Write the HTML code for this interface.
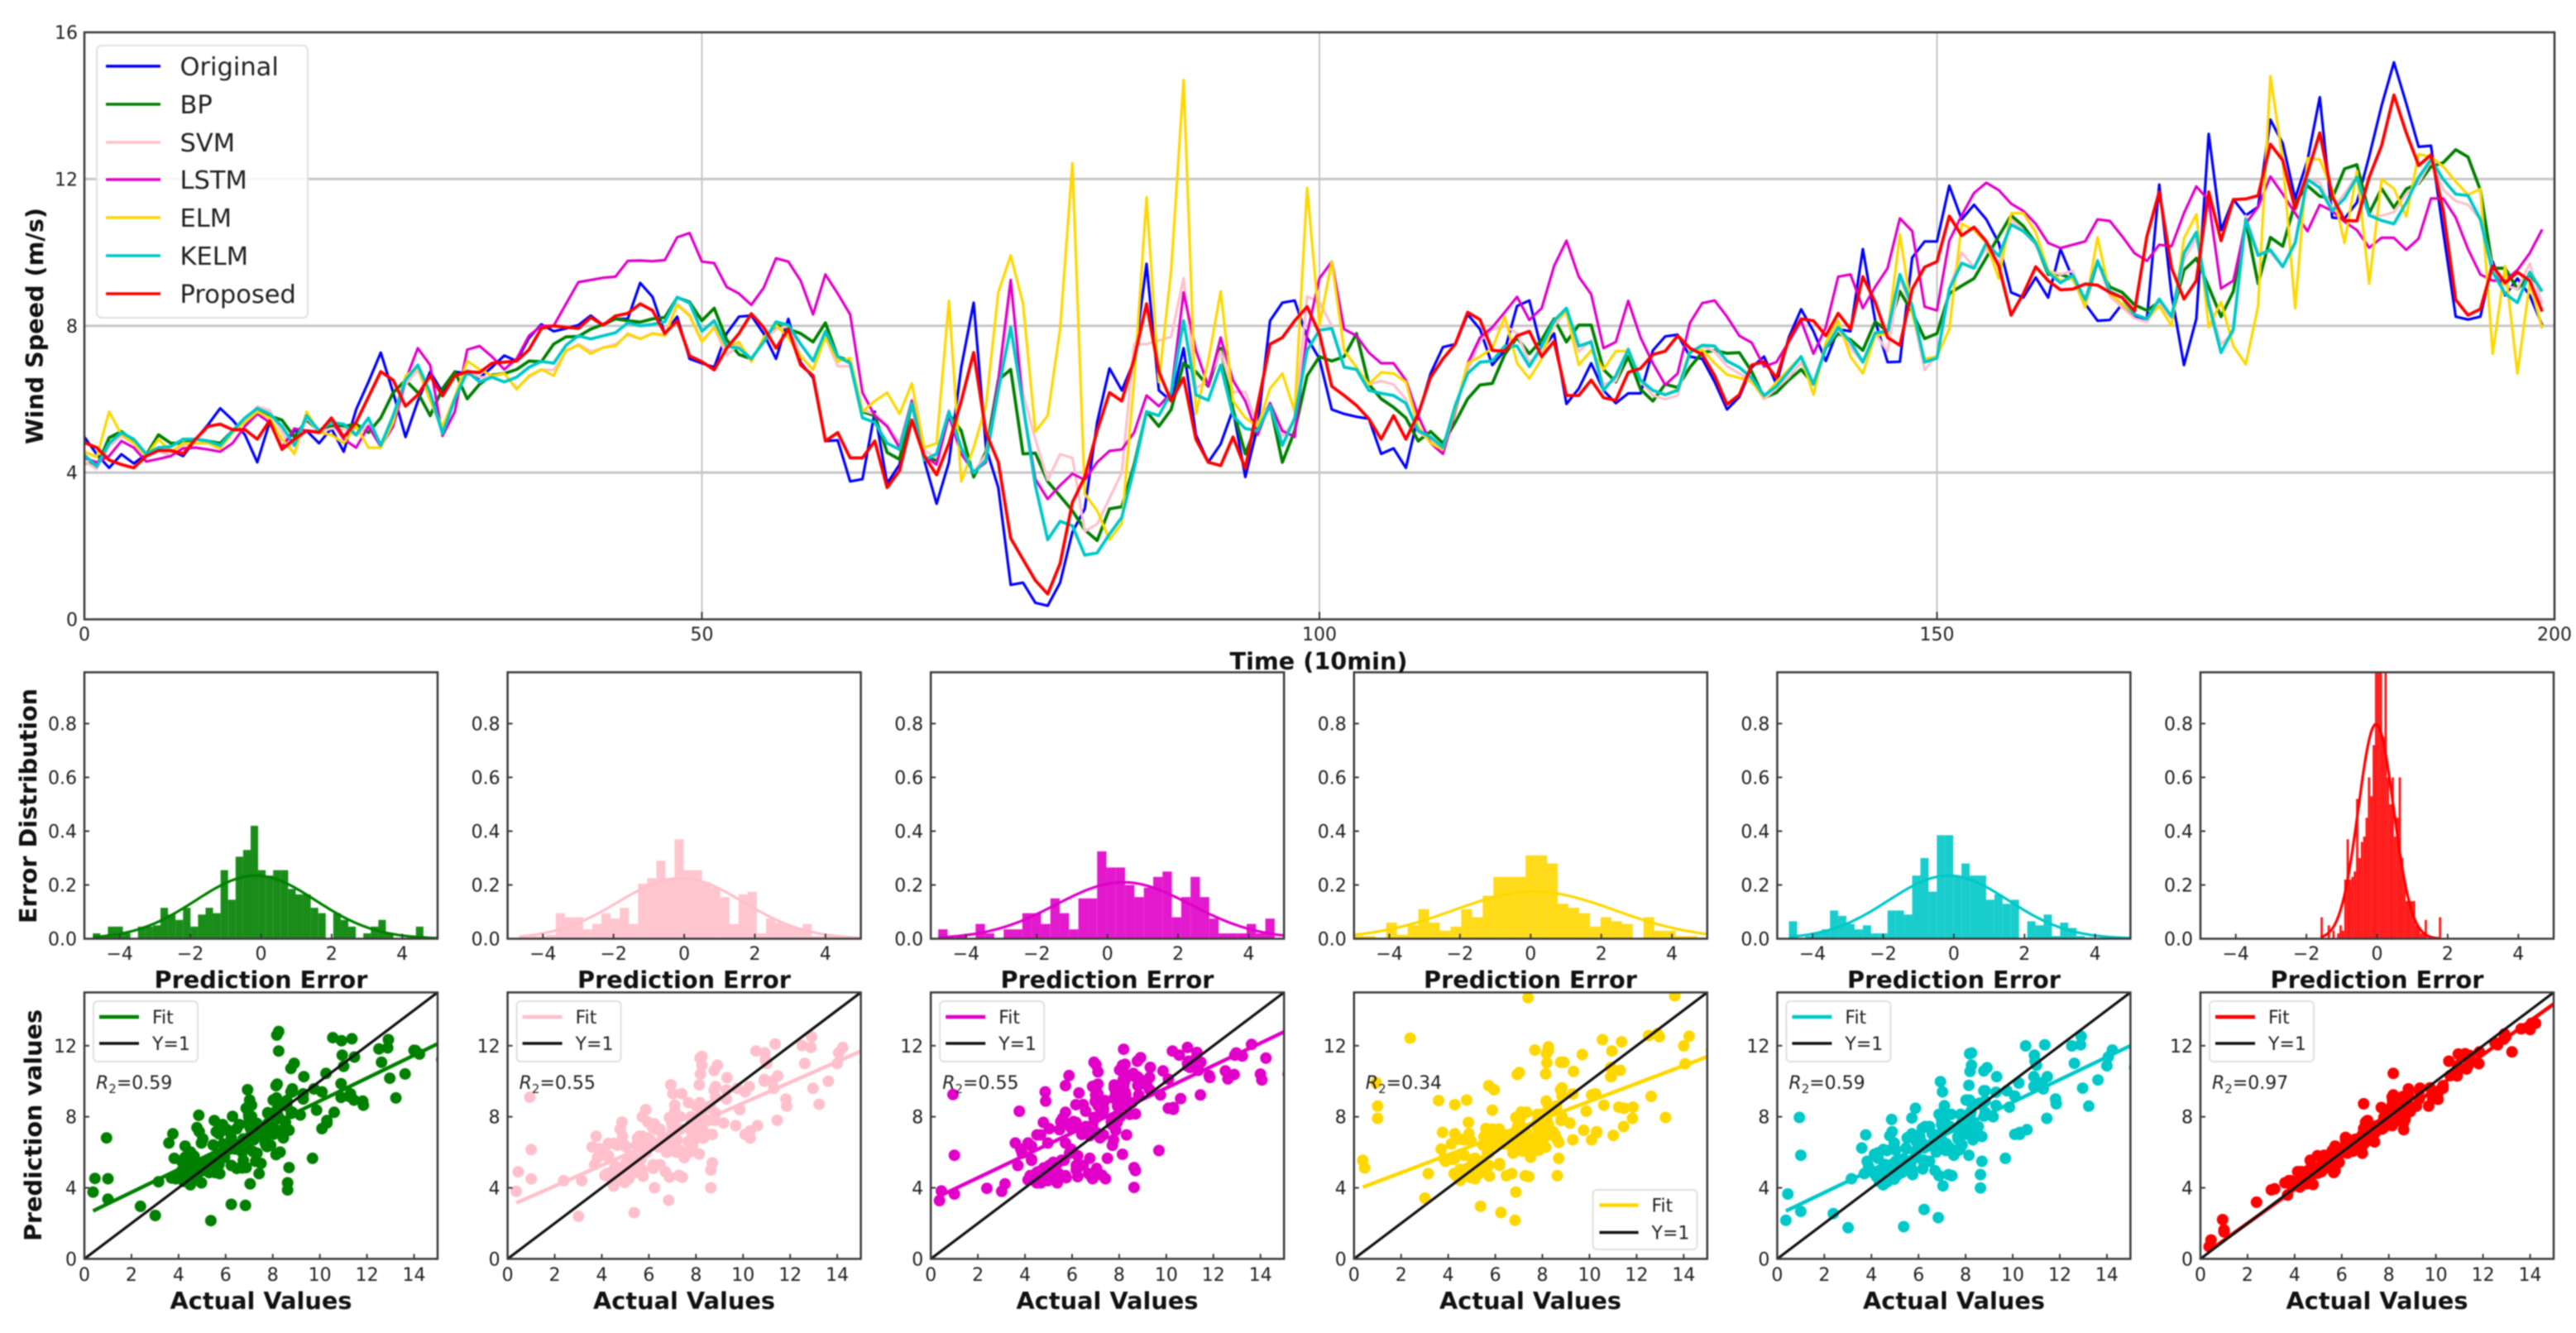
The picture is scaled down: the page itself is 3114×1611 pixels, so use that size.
<!DOCTYPE html>
<html lang="en">
<head>
<meta charset="utf-8">
<title>Wind speed prediction comparison</title>
<style>
html,body{margin:0;padding:0;background:#fff;width:3114px;height:1611px;overflow:hidden}
svg{display:block;font-family:"DejaVu Sans","Liberation Sans",sans-serif;filter:blur(0.7px)}
.tick{font-size:22px;fill:#222}
.title{font-size:28.5px;font-weight:bold;fill:#111}
.leg-main{font-size:30.5px;fill:#222}
.leg{font-size:22px;fill:#222}
.r2{font-size:22px;fill:#222}
</style>
</head>
<body>
<svg id="chart" xmlns="http://www.w3.org/2000/svg" width="3114" height="1611" viewBox="0 0 3114 1611">
  <rect x="0" y="0" width="3114" height="1611" fill="#fff"/>
  <g id="main-layer"></g>
  <g id="panel-layer"></g>

  <text class="title" text-anchor="middle" transform="translate(52,394) rotate(-90)" textLength="286" lengthAdjust="spacingAndGlyphs">Wind Speed (m/s)</text>
  <text class="title" x="1594" y="809" text-anchor="middle" textLength="215" lengthAdjust="spacingAndGlyphs">Time (10min)</text>

  <g>
    <rect x="117" y="55" width="255" height="329" rx="6" fill="#fff" fill-opacity=".85" stroke="#e0e0e0" stroke-width="2"/>
    <g><line x1="128" x2="194" y1="80" y2="80" stroke="#0000ff" stroke-width="3.5"/><text class="leg-main" x="217.5" y="91">Original</text></g>
    <g><line x1="128" x2="194" y1="126" y2="126" stroke="#008000" stroke-width="3.5"/><text class="leg-main" x="217.5" y="137">BP</text></g>
    <g><line x1="128" x2="194" y1="172" y2="172" stroke="#ffc0cb" stroke-width="3.5"/><text class="leg-main" x="217.5" y="183">SVM</text></g>
    <g><line x1="128" x2="194" y1="217" y2="217" stroke="#e000c8" stroke-width="3.5"/><text class="leg-main" x="217.5" y="228">LSTM</text></g>
    <g><line x1="128" x2="194" y1="263" y2="263" stroke="#ffd700" stroke-width="3.5"/><text class="leg-main" x="217.5" y="274">ELM</text></g>
    <g><line x1="128" x2="194" y1="309" y2="309" stroke="#00c8c8" stroke-width="3.5"/><text class="leg-main" x="217.5" y="320">KELM</text></g>
    <g><line x1="128" x2="194" y1="355" y2="355" stroke="#ff0000" stroke-width="3.5"/><text class="leg-main" x="217.5" y="366">Proposed</text></g>
  </g>

  <text class="title" text-anchor="middle" transform="translate(44,974) rotate(-90)" textLength="284" lengthAdjust="spacingAndGlyphs">Error Distribution</text>
  <text class="title" text-anchor="middle" transform="translate(50,1360) rotate(-90)" textLength="280" lengthAdjust="spacingAndGlyphs">Prediction values</text>

  <g>
    <text class="title" x="315.5" y="1194" text-anchor="middle" textLength="258" lengthAdjust="spacingAndGlyphs">Prediction Error</text>
    <text class="title" x="827" y="1194" text-anchor="middle" textLength="258" lengthAdjust="spacingAndGlyphs">Prediction Error</text>
    <text class="title" x="1338.5" y="1194" text-anchor="middle" textLength="258" lengthAdjust="spacingAndGlyphs">Prediction Error</text>
    <text class="title" x="1850" y="1194" text-anchor="middle" textLength="258" lengthAdjust="spacingAndGlyphs">Prediction Error</text>
    <text class="title" x="2362" y="1194" text-anchor="middle" textLength="258" lengthAdjust="spacingAndGlyphs">Prediction Error</text>
    <text class="title" x="2873.5" y="1194" text-anchor="middle" textLength="258" lengthAdjust="spacingAndGlyphs">Prediction Error</text>
  </g>
  <g>
    <text class="title" x="315.5" y="1582" text-anchor="middle" textLength="220" lengthAdjust="spacingAndGlyphs">Actual Values</text>
    <text class="title" x="827" y="1582" text-anchor="middle" textLength="220" lengthAdjust="spacingAndGlyphs">Actual Values</text>
    <text class="title" x="1338.5" y="1582" text-anchor="middle" textLength="220" lengthAdjust="spacingAndGlyphs">Actual Values</text>
    <text class="title" x="1850" y="1582" text-anchor="middle" textLength="220" lengthAdjust="spacingAndGlyphs">Actual Values</text>
    <text class="title" x="2362" y="1582" text-anchor="middle" textLength="220" lengthAdjust="spacingAndGlyphs">Actual Values</text>
    <text class="title" x="2873.5" y="1582" text-anchor="middle" textLength="220" lengthAdjust="spacingAndGlyphs">Actual Values</text>
  </g>

  <g>
    <g>
      <rect x="113" y="1210" width="126" height="73" rx="5" fill="#fff" fill-opacity=".85" stroke="#e0e0e0" stroke-width="2"/>
      <line x1="120" x2="168" y1="1229" y2="1229" stroke="#008000" stroke-width="4.5"/><text class="leg" x="184" y="1237">Fit</text>
      <line x1="120" x2="168" y1="1261" y2="1261" stroke="#111" stroke-width="3.5"/><text class="leg" x="184" y="1269">Y=1</text>
    </g>
    <g>
      <rect x="624.6" y="1210" width="126" height="73" rx="5" fill="#fff" fill-opacity=".85" stroke="#e0e0e0" stroke-width="2"/>
      <line x1="631.6" x2="679.6" y1="1229" y2="1229" stroke="#ffc0cb" stroke-width="4.5"/><text class="leg" x="695.6" y="1237">Fit</text>
      <line x1="631.6" x2="679.6" y1="1261" y2="1261" stroke="#111" stroke-width="3.5"/><text class="leg" x="695.6" y="1269">Y=1</text>
    </g>
    <g>
      <rect x="1136.2" y="1210" width="126" height="73" rx="5" fill="#fff" fill-opacity=".85" stroke="#e0e0e0" stroke-width="2"/>
      <line x1="1143.2" x2="1191.2" y1="1229" y2="1229" stroke="#e000c8" stroke-width="4.5"/><text class="leg" x="1207.2" y="1237">Fit</text>
      <line x1="1143.2" x2="1191.2" y1="1261" y2="1261" stroke="#111" stroke-width="3.5"/><text class="leg" x="1207.2" y="1269">Y=1</text>
    </g>
    <g>
      <rect x="1925.6" y="1438" width="126" height="72" rx="5" fill="#fff" fill-opacity=".85" stroke="#e0e0e0" stroke-width="2"/>
      <line x1="1933.5" x2="1980.6" y1="1456.5" y2="1456.5" stroke="#ffd700" stroke-width="4.5"/><text class="leg" x="1996.5" y="1464.5">Fit</text>
      <line x1="1933.5" x2="1980.6" y1="1489.5" y2="1489.5" stroke="#111" stroke-width="3.5"/><text class="leg" x="1996.5" y="1497.5">Y=1</text>
    </g>
    <g>
      <rect x="2159.4" y="1210" width="126" height="73" rx="5" fill="#fff" fill-opacity=".85" stroke="#e0e0e0" stroke-width="2"/>
      <line x1="2166.4" x2="2214.4" y1="1229" y2="1229" stroke="#00c8c8" stroke-width="4.5"/><text class="leg" x="2230.4" y="1237">Fit</text>
      <line x1="2166.4" x2="2214.4" y1="1261" y2="1261" stroke="#111" stroke-width="3.5"/><text class="leg" x="2230.4" y="1269">Y=1</text>
    </g>
    <g>
      <rect x="2671" y="1210" width="126" height="73" rx="5" fill="#fff" fill-opacity=".85" stroke="#e0e0e0" stroke-width="2"/>
      <line x1="2678" x2="2726" y1="1229" y2="1229" stroke="#ff0000" stroke-width="4.5"/><text class="leg" x="2742" y="1237">Fit</text>
      <line x1="2678" x2="2726" y1="1261" y2="1261" stroke="#111" stroke-width="3.5"/><text class="leg" x="2742" y="1269">Y=1</text>
    </g>
  </g>

  <g>
    <text class="r2" x="116" y="1316"><tspan font-style="italic">R</tspan><tspan font-size="15" dy="5">2</tspan><tspan dy="-5">=0.59</tspan></text>
    <text class="r2" x="627.6" y="1316"><tspan font-style="italic">R</tspan><tspan font-size="15" dy="5">2</tspan><tspan dy="-5">=0.55</tspan></text>
    <text class="r2" x="1139.2" y="1316"><tspan font-style="italic">R</tspan><tspan font-size="15" dy="5">2</tspan><tspan dy="-5">=0.55</tspan></text>
    <text class="r2" x="1650.8" y="1316"><tspan font-style="italic">R</tspan><tspan font-size="15" dy="5">2</tspan><tspan dy="-5">=0.34</tspan></text>
    <text class="r2" x="2162.4" y="1316"><tspan font-style="italic">R</tspan><tspan font-size="15" dy="5">2</tspan><tspan dy="-5">=0.59</tspan></text>
    <text class="r2" x="2674" y="1316"><tspan font-style="italic">R</tspan><tspan font-size="15" dy="5">2</tspan><tspan dy="-5">=0.97</tspan></text>
  </g>
</svg>

<script>
// ---------- Main time-series values (m/s), one per 10-min step ----------
const original = [
4.97,4.5,4.13,4.5,4.25,4.5,4.6,4.6,4.45,4.9,
5.3,5.75,5.43,5.03,4.28,5.37,4.68,5.14,5.14,4.8,
5.2,4.57,5.72,6.47,7.27,6.18,4.97,5.95,6.75,6.18,
6.75,6.7,6.58,6.87,7.19,7.04,7.67,8.04,7.85,7.93,
8.02,8.28,8.02,8.19,8.19,9.17,8.79,7.79,8.25,7.1,
6.98,6.87,7.79,8.25,8.28,7.79,7.1,8.19,7.0,6.58,
4.86,4.88,3.76,3.82,5.66,3.7,4.22,5.89,4.34,3.15,
4.28,6.87,8.63,4.68,3.59,0.94,1.0,0.45,0.37,1.0,
2.38,3.01,5.37,6.84,6.24,7.04,9.69,6.24,5.95,7.39,
5.03,4.28,4.78,5.72,3.88,5.26,8.14,8.63,8.69,7.68,
7.1,5.72,5.6,5.52,5.47,4.51,4.66,4.13,5.55,6.7,
7.42,7.5,8.31,7.91,6.93,7.33,8.54,8.69,7.33,7.79,
5.87,6.29,6.98,6.24,5.89,6.16,6.16,7.33,7.71,7.76,
7.16,7.1,6.47,5.72,6.06,6.87,7.16,6.41,7.68,8.45,
7.85,7.04,7.91,7.85,10.09,8.14,7.01,7.02,9.86,10.3,
10.3,11.82,10.9,11.3,10.9,10.26,8.91,8.77,9.32,8.77,
10.09,9.29,8.6,8.14,8.16,8.6,8.23,8.19,11.85,8.83,
6.93,8.19,13.23,10.61,11.45,11.01,11.24,13.62,12.97,11.47,
12.51,14.23,10.95,10.92,11.36,12.62,14.0,15.18,14.06,12.88,
12.91,10.55,8.25,8.17,8.25,9.75,8.83,9.29,8.83,8.02];

const bp = [
4.28,4.17,4.95,5.12,4.86,4.48,5.03,4.8,4.8,4.91,
4.86,4.8,5.14,5.37,5.72,5.55,5.43,4.97,5.43,5.14,
5.26,5.26,5.32,5.09,5.49,6.18,6.52,6.18,5.55,6.29,
6.75,6.01,6.41,6.66,6.7,6.81,7.04,7.02,7.5,7.7,
7.71,7.91,8.04,8.19,8.14,8.1,8.19,8.23,8.77,8.65,
8.14,8.48,7.62,7.22,7.1,7.56,8.02,7.91,7.79,7.56,
8.08,7.16,7.04,5.66,5.55,4.55,4.36,5.89,4.4,4.34,
5.6,5.14,3.88,4.57,6.52,6.81,4.51,4.53,3.76,3.36,
2.96,2.44,2.15,3.01,3.07,4.22,5.66,5.26,5.72,6.98,
6.75,6.35,7.39,5.72,4.51,5.37,5.87,4.28,5.14,6.64,
7.16,7.04,7.16,7.79,6.41,6.01,5.78,5.49,4.86,5.12,
4.8,5.37,6.01,6.39,6.43,7.22,7.68,7.24,7.62,8.19,
7.56,8.02,8.02,6.81,6.47,7.16,6.27,5.95,6.41,6.32,
6.87,7.27,7.33,7.25,7.27,6.75,6.04,6.18,6.52,6.81,
6.41,7.39,7.79,7.62,7.33,8.11,7.85,8.94,8.37,7.65,
7.79,8.88,9.09,9.29,9.86,10.44,11.01,10.72,10.26,9.4,
9.4,9.29,8.6,9.75,9.06,8.91,8.57,8.42,8.65,8.25,
9.52,9.84,9.06,8.25,8.94,10.84,9.15,10.41,10.17,11.36,
11.82,11.53,11.47,12.28,12.39,11.07,11.74,11.22,11.73,11.88,
12.34,12.45,12.8,12.6,11.7,9.57,9.57,9.0,9.4,8.94];

const svm = [
4.3,4.1,4.7,5.0,4.8,4.45,4.6,4.45,4.75,4.8,
4.8,4.65,5.1,5.4,5.8,5.7,5.1,4.5,5.5,5.1,
5.2,5.2,5.0,5.3,4.7,5.3,6.4,6.8,6.0,5.1,
6.0,6.8,6.6,6.6,6.7,6.3,6.6,6.8,6.8,7.3,
7.5,7.3,7.4,7.5,7.75,7.65,7.8,7.75,8.6,8.3,
7.6,7.95,7.2,7.5,7.1,7.6,7.9,8.0,7.2,6.8,
7.7,6.9,6.9,5.7,5.6,5.3,4.8,6.0,4.6,4.4,
5.7,4.6,4.0,4.5,6.3,9.1,6.15,4.9,3.8,4.5,
4.4,2.4,2.6,3.3,4.0,7.5,7.5,7.6,7.7,9.3,
6.3,6.5,7.3,6.2,6.2,5.3,5.9,5.0,5.4,8.8,
8.65,8.0,6.9,6.8,6.4,6.5,6.4,6.0,5.1,4.9,
4.6,5.7,6.8,7.6,7.9,8.0,7.8,7.0,7.3,8.0,
8.4,7.3,7.6,6.4,6.5,7.4,6.5,6.1,6.0,6.1,
7.3,7.45,7.3,6.9,6.7,6.5,6.0,6.3,6.6,7.0,
6.4,7.4,7.9,7.4,7.0,7.8,7.3,9.3,8.4,6.8,
7.2,9.0,10.0,9.6,10.1,9.7,10.9,10.6,10.2,9.5,
9.4,9.5,8.6,9.8,8.8,8.5,8.2,8.1,8.6,8.2,
9.8,10.4,8.7,7.5,7.8,11.0,10.0,10.0,9.6,10.3,
12.0,11.9,11.2,11.6,12.1,11.0,11.0,11.1,11.6,11.9,
12.5,11.7,11.4,11.3,10.9,9.6,9.1,9.0,9.7,8.6];

const lstm = [
4.4,4.28,4.45,4.86,4.68,4.3,4.37,4.45,4.66,4.68,
4.63,4.57,4.8,5.26,5.6,5.37,4.68,5.2,5.14,5.12,
5.43,4.91,4.68,5.26,4.71,5.26,6.52,7.39,6.93,5.0,
5.66,7.35,7.45,7.16,6.81,7.1,7.73,8.0,8.0,8.6,
9.19,9.25,9.31,9.34,9.77,9.78,9.76,9.79,10.41,10.53,
9.75,9.71,9.06,8.88,8.57,9.03,9.84,9.75,9.23,8.31,
9.4,8.88,8.31,6.18,5.55,5.26,4.68,5.95,4.45,4.22,
5.55,4.51,4.02,4.28,6.52,9.25,5.83,3.82,3.28,3.65,
3.97,3.8,4.28,4.59,4.63,5.09,6.1,5.81,6.18,8.91,
7.33,6.35,7.68,6.52,5.95,5.03,5.89,5.14,4.97,7.79,
9.29,9.75,7.91,7.73,7.27,6.98,6.98,6.52,5.55,4.8,
4.51,5.66,6.98,7.68,7.96,8.37,8.79,8.16,8.48,9.63,
10.32,9.34,8.86,7.39,7.56,8.68,7.68,6.98,6.39,6.7,
8.08,8.62,8.69,8.25,7.73,7.54,6.89,7.01,7.56,8.14,
7.24,7.96,9.34,9.4,8.48,9.06,9.57,10.93,10.58,8.52,
8.42,10.32,11.01,11.62,11.9,11.7,11.33,11.13,10.78,10.26,
10.12,10.21,10.3,10.9,10.86,10.44,9.98,9.77,10.21,10.17,
11.07,11.8,11.42,9.02,9.23,10.78,11.24,12.07,11.59,11.07,
10.58,11.3,11.13,10.84,10.61,10.13,10.4,10.4,10.07,10.38,
11.47,11.47,10.95,10.09,9.4,9.23,9.23,9.52,9.98,10.63];

const elm = [
4.57,4.42,5.66,5.03,4.8,4.45,4.91,4.57,4.8,4.8,
4.8,4.66,5.09,5.37,5.66,5.49,4.91,4.51,5.66,5.09,
5.03,4.8,5.26,4.68,4.68,5.37,6.64,6.87,5.95,5.26,
6.06,7.04,6.81,6.64,6.7,6.27,6.64,6.81,6.64,7.33,
7.47,7.24,7.41,7.45,7.79,7.64,7.79,7.73,8.57,8.27,
7.56,7.96,7.39,7.56,7.02,7.68,8.02,7.68,7.16,6.81,
7.68,7.04,7.12,5.66,5.95,6.18,5.6,6.43,4.68,4.8,
8.68,3.76,4.68,5.83,8.91,9.92,8.6,5.12,5.55,7.91,
12.43,3.42,2.96,2.17,2.61,6.52,11.5,6.47,9.52,14.7,
5.6,7.04,8.94,5.95,5.49,5.26,6.29,6.7,5.66,11.76,
8.02,9.75,7.33,6.87,6.41,6.73,6.7,6.47,5.26,4.8,
4.63,5.72,6.98,7.16,7.39,8.25,6.98,6.56,7.1,8.14,
8.37,6.93,7.33,6.81,7.31,7.31,6.52,6.24,6.12,6.27,
7.33,7.35,6.98,6.67,6.58,6.47,6.06,6.47,6.81,7.16,
6.12,7.56,8.14,7.16,6.7,7.73,7.79,10.49,8.31,7.1,
7.16,7.91,10.78,10.61,10.26,9.29,11.07,11.07,10.55,9.52,
9.23,9.29,8.5,10.41,8.88,8.6,8.31,8.19,8.54,8.0,
10.38,11.04,7.96,8.65,7.45,6.95,8.54,14.81,12.51,8.48,
12.57,12.53,11.7,10.26,12.22,9.15,11.99,11.74,10.98,12.68,
12.6,12.34,11.93,11.57,11.73,7.24,9.63,6.7,9.17,7.93];

const kelm = [
4.48,4.17,4.8,5.09,4.91,4.51,4.68,4.71,4.91,4.91,
4.86,4.74,5.14,5.49,5.75,5.6,5.26,4.74,5.55,5.14,
5.37,5.32,5.03,5.49,4.74,5.55,6.52,6.93,6.18,5.06,
6.01,6.75,6.47,6.6,6.47,6.6,6.87,7.03,6.98,7.47,
7.73,7.64,7.73,7.81,8.08,8.0,8.04,8.11,8.78,8.62,
7.85,8.14,7.45,7.39,7.1,7.56,8.11,8.02,7.5,7.04,
7.85,7.16,6.98,5.49,5.37,4.8,4.63,5.89,4.34,4.51,
5.66,4.68,3.99,4.34,6.24,7.96,5.83,3.65,2.17,2.67,
2.55,1.75,1.81,2.32,2.78,4.11,5.66,5.55,6.18,8.14,
6.12,5.97,6.93,5.55,5.2,5.14,5.83,4.74,5.49,7.33,
7.88,7.93,6.87,6.81,6.24,6.16,6.1,5.89,5.14,4.97,
4.68,5.83,6.7,7.01,7.04,7.45,7.45,6.89,7.45,8.14,
8.48,7.45,7.56,6.24,6.64,7.35,6.52,6.24,6.12,6.24,
7.27,7.47,7.45,7.04,6.87,6.58,6.1,6.35,6.75,7.16,
6.41,7.39,7.96,7.56,7.01,7.81,7.85,9.4,8.54,7.01,
7.12,9.0,9.71,9.57,10.26,9.9,10.76,10.58,10.26,9.46,
9.17,9.38,8.71,9.77,8.94,8.77,8.31,8.19,8.73,8.25,
9.98,10.55,8.6,7.27,7.91,10.9,9.92,10.07,9.61,10.26,
11.99,11.76,11.13,11.47,12.05,11.01,10.87,10.78,11.36,12.05,
12.53,11.99,11.59,11.55,10.9,9.46,8.88,8.63,9.46,8.94];

const proposed = [
4.82,4.68,4.34,4.22,4.13,4.45,4.6,4.6,4.51,4.91,
5.26,5.32,5.17,5.17,4.91,5.41,4.63,4.91,5.14,5.09,
5.49,4.97,5.37,6.06,6.75,6.52,5.81,6.12,6.64,6.09,
6.64,6.75,6.73,6.98,7.01,7.04,7.35,7.93,8.0,7.96,
7.93,8.23,8.02,8.27,8.34,8.6,8.42,7.79,8.14,7.18,
7.02,6.8,7.39,7.79,8.33,7.96,7.39,7.91,6.93,6.64,
4.86,5.09,4.4,4.4,4.86,3.59,4.05,5.43,4.45,3.94,
4.8,5.95,7.27,5.09,4.28,2.21,1.63,1.06,0.69,1.52,
3.19,3.88,5.14,6.18,5.95,7.1,8.6,6.75,5.95,6.58,
4.91,4.28,4.19,4.97,4.11,5.83,7.5,7.68,8.14,8.52,
7.79,6.35,6.1,5.83,5.47,4.91,5.55,4.91,5.6,6.6,
7.1,7.5,8.37,8.17,7.33,7.31,7.73,7.85,7.16,7.58,
6.1,6.1,6.52,6.04,5.97,6.73,6.84,7.22,7.31,7.73,
7.39,7.22,6.64,5.86,6.12,6.93,7.02,6.58,7.62,8.19,
8.14,7.73,8.34,7.91,9.34,8.65,7.68,7.47,9.0,9.6,
9.75,10.99,10.46,10.69,10.3,9.63,8.29,8.88,9.61,9.23,
8.98,9.0,9.14,9.11,8.91,8.77,8.4,10.44,11.65,9.57,
8.73,9.23,11.65,10.32,11.44,11.46,11.55,12.95,12.51,11.19,
12.16,13.26,11.53,10.87,10.86,12.05,12.91,14.29,13.26,12.37,
12.66,11.13,8.71,8.29,8.46,9.63,9.17,9.46,9.23,8.39];

const mainXTicks = [0,50,100,150,200];
const mainYTicks = [0,4,8,12,16];

// ---------- Histogram values (density per bin) ----------
const modelNames = ['bp','svm','lstm','elm','kelm','proposed'];
const histStart = [-4.76,-4.67,-4.79,-5.0,-4.67,-1.6];
const histBinWidth = [0.2127,0.2587,0.2646,0.3035,0.2327,0.067];
const bpHist = [.02,.01,.045,.045,.02,0,.045,.045,.05,.115,.09,.07,.115,.045,.09,.115,.095,.255,.145,.305,.33,.42,.255,.235,.255,.255,.185,.165,.165,.115,.095,0,.095,.07,.045,0,.02,.045,.07,.02,0,0,0,.045,0];
const svmHist = [.01,.01,.01,.015,.095,.08,.08,.035,.055,.095,.075,.115,.055,.205,.225,.29,.22,.37,.255,.255,.21,.19,.155,.055,.165,.175,.02,.075,.06,.05,.04,.055,.01,.01,.01,.005];
const lstmHist = [.035,0,.01,0,.055,.02,0,.035,.035,.095,.095,.055,.15,.095,.035,.15,.15,.325,.265,.265,.2,.155,.19,.23,.25,.08,.155,.23,.155,.075,.02,.02,.02,.055,.02,.075];
const elmHist = [.01,.01,0,.06,.015,.05,.11,.06,.03,.045,.11,.08,.16,.23,.23,.23,.31,.31,.28,.13,.115,.095,.045,.08,.065,.055,0,.08,.03,.03,.01,.01,.005];
const kelmHist = [.065,0,.01,.02,.035,.105,.085,.055,.035,.05,.02,.02,.105,.105,.09,.235,.3,.175,.385,.385,.23,.28,.235,.235,.145,.165,.13,.145,0,.065,.05,.09,.01,.06,.04,.01,.005];
const proposedHist = [.08,0,0,.05,0,.03,0,.02,.05,.03,.22,.37,.22,.23,.25,.52,.3,.36,.38,.45,.6,.53,.72,1.0,1.0,1.0,.75,1.0,.6,.5,.6,.38,.45,.6,.3,.22,.14,.14,.14,.14,.05,.04,.02,.02,.07,0,0,0,0,0,.08];
const curveMu = [-0.15,-0.1,0.45,0.1,-0.15,-0.03];
const curveSigma = [1.7,1.77,1.9,2.28,1.7,0.5];
const curveStart = [-4.76,-4.67,-4.79,-5.0,-4.67,-1.6];
const curveEnd = [5,5,5,5,5,1.75];
const histXTicks = [-4,-2,0,2,4];
const histYTicks = [0,0.2,0.4,0.6,0.8];

// ---------- Scatter fit lines and axis ticks ----------
const fitSlope = [0.643,0.584,0.632,0.502,0.636,0.95];
const fitIntercept = [2.46,2.93,3.3,3.85,2.46,0.1];
const scatterXTicks = [0,2,4,6,8,10,12,14];
const scatterYTicks = [0,4,8,12];

const seriesNames = ['original','bp','svm','lstm','elm','kelm','proposed'];
const seriesValues = [original,bp,svm,lstm,elm,kelm,proposed];
const seriesColors = ['#0000ff','#008000','#ffc0cb','#e000c8','#ffd700','#00c8c8','#ff0000'];
const seriesWidths = [3.2,3.8,3.2,3.2,3.2,3.8,3.8];
const modelSeries = [bp,svm,lstm,elm,kelm,proposed];
const modelHists = [bpHist,svmHist,lstmHist,elmHist,kelmHist,proposedHist];
const modelColors = ['#008000','#ffc0cb','#e000c8','#ffd700','#00c8c8','#ff0000'];

const NS = 'http://www.w3.org/2000/svg';
const frameColor = '#3a3a3a';
const svg = document.getElementById('chart');
const mainLayer = document.getElementById('main-layer');
const panelLayer = document.getElementById('panel-layer');

function make(tag, attrs, parent) {
  const node = document.createElementNS(NS, tag);
  for (const k in attrs) node.setAttribute(k, attrs[k]);
  parent.appendChild(node);
  return node;
}

// ---------- Axis functions ----------
const mainX = v => 102 + v * 14.93;
const mainY = v => 748.5 - v * 44.34;
const panelLeft = k => 102 + k * 511.6;
const panelW = 427;
const histTop = 812.5, histBottom = 1134.5;
const scatterTop = 1199.4, scatterBottom = 1521.4;
const histX = (k, v) => panelLeft(k) + (v + 5) * panelW / 10;
const histY = v => histBottom - v * 325;
const scatterX = (k, v) => panelLeft(k) + v * panelW / 15;
const scatterY = v => scatterBottom - v * 322 / 15;
const fmtTick = v => String(v).replace('-', '\u2212');

// ---------- Main plot ----------
const defs = make('defs', {}, svg);
const mainClip = make('clipPath', {id: 'main-clip'}, defs);
make('rect', {x: mainX(0), y: mainY(16), width: mainX(200) - mainX(0), height: mainY(0) - mainY(16)}, mainClip);

mainYTicks.forEach(t => {
  if (t !== 0 && t !== 16) {
    const g = make('line', {x1: mainX(0), x2: mainX(200), y1: mainY(t), y2: mainY(t), stroke: '#c6c6c6', 'stroke-width': 3}, mainLayer);
    
    
  }
  const lab = make('text', {x: 94, y: mainY(t) + 8, 'text-anchor': 'end', class: 'tick'}, mainLayer);
  lab.textContent = fmtTick(t);
  
  
});
mainXTicks.forEach(t => {
  if (t !== 0 && t !== 200) {
    const g = make('line', {x1: mainX(t), x2: mainX(t), y1: mainY(0), y2: mainY(16), stroke: '#c6c6c6', 'stroke-width': 2}, mainLayer);
    
    
  }
  const tk = make('line', {x1: mainX(t), x2: mainX(t), y1: mainY(0), y2: mainY(0) - 9, stroke: frameColor, 'stroke-width': 2}, mainLayer);
  
  
  const lab = make('text', {x: mainX(t), y: 774, 'text-anchor': 'middle', class: 'tick'}, mainLayer);
  lab.textContent = fmtTick(t);
  
  
});
seriesValues.forEach((vals, s) => {
  const d = vals.map((v, i) => (i ? 'L' : 'M') + mainX(i).toFixed(1) + ' ' + mainY(v).toFixed(1)).join('');
  const p = make('path', {d: d, fill: 'none', stroke: seriesColors[s], 'stroke-width': seriesWidths[s], 'stroke-linejoin': 'round', 'clip-path': 'url(#main-clip)'}, mainLayer);
  
  
});
const mainFrame = make('rect', {x: mainX(0), y: mainY(16), width: mainX(200) - mainX(0), height: mainY(0) - mainY(16), fill: 'none', stroke: frameColor, 'stroke-width': 2.5}, mainLayer);



// ---------- Histogram and scatter panels ----------
modelNames.forEach((name, k) => {
  const color = modelColors[k];
  const left = panelLeft(k);

  // histogram
  const hg = make('g', {}, panelLayer);
  
  
  const hc = make('clipPath', {id: 'hist-clip-' + k}, defs);
  make('rect', {x: left, y: histTop, width: panelW, height: histBottom - histTop}, hc);

  modelHists[k].forEach((h, b) => {
    if (h <= 0) return;
    const x0 = histStart[k] + b * histBinWidth[k];
    const bar = make('rect', {
      x: histX(k, x0), y: histY(h),
      width: histX(k, x0 + histBinWidth[k]) - histX(k, x0),
      height: histY(0) - histY(h),
      fill: color, 'fill-opacity': .9,
      'clip-path': 'url(#hist-clip-' + k + ')'
    }, hg);
    
    
  });

  const mu = curveMu[k], sg = curveSigma[k];
  let cd = '';
  for (let n = 0; n <= 120; n++) {
    const xv = curveStart[k] + (curveEnd[k] - curveStart[k]) * n / 120;
    const yv = Math.exp(-0.5 * Math.pow((xv - mu) / sg, 2)) / (sg * Math.sqrt(2 * Math.PI));
    cd += (n ? 'L' : 'M') + histX(k, xv).toFixed(1) + ' ' + histY(yv).toFixed(1);
  }
  const curve = make('path', {d: cd, fill: 'none', stroke: color, 'stroke-width': 3.2, 'clip-path': 'url(#hist-clip-' + k + ')'}, hg);
  
  

  const hf = make('rect', {x: left, y: histTop, width: panelW, height: histBottom - histTop, fill: 'none', stroke: frameColor, 'stroke-width': 2.5}, hg);
  
  

  histXTicks.forEach(t => {
    const tk = make('line', {x1: histX(k, t), x2: histX(k, t), y1: histBottom, y2: histBottom - 6, stroke: frameColor, 'stroke-width': 2}, hg);
    
    
    const lab = make('text', {x: histX(k, t), y: 1160, 'text-anchor': 'middle', class: 'tick'}, hg);
    lab.textContent = fmtTick(t);
    
    
  });
  histYTicks.forEach(t => {
    const tk = make('line', {x1: left, x2: left + 6, y1: histY(t), y2: histY(t), stroke: frameColor, 'stroke-width': 2}, hg);
    
    
    const lab = make('text', {x: left - 9, y: histY(t) + 8, 'text-anchor': 'end', class: 'tick'}, hg);
    lab.textContent = t.toFixed(1);
    
    
  });

  // scatter: actual wind speed against this model's prediction
  const sg2 = make('g', {}, panelLayer);
  
  
  const sc = make('clipPath', {id: 'scatter-clip-' + k}, defs);
  make('rect', {x: left, y: scatterTop, width: panelW, height: scatterBottom - scatterTop}, sc);

  const pred = modelSeries[k];
  original.forEach((a, i) => {
    const dot = make('circle', {cx: scatterX(k, a).toFixed(1), cy: scatterY(pred[i]).toFixed(1), r: 7, fill: color, 'clip-path': 'url(#scatter-clip-' + k + ')'}, sg2);
    
    
  });

  const xMin = Math.min.apply(null, original);
  const fit = make('line', {x1: scatterX(k, xMin), y1: scatterY(fitIntercept[k] + fitSlope[k] * xMin), x2: scatterX(k, 15), y2: scatterY(fitIntercept[k] + fitSlope[k] * 15), stroke: color, 'stroke-width': 4.5, 'clip-path': 'url(#scatter-clip-' + k + ')'}, sg2);
  
  

  const ref = make('line', {x1: scatterX(k, 0), y1: scatterY(0), x2: scatterX(k, 15), y2: scatterY(15), stroke: '#111', 'stroke-width': 3.2, 'clip-path': 'url(#scatter-clip-' + k + ')'}, sg2);
  
  

  const sf = make('rect', {x: left, y: scatterTop, width: panelW, height: scatterBottom - scatterTop, fill: 'none', stroke: frameColor, 'stroke-width': 2.5}, sg2);
  
  

  scatterXTicks.forEach(t => {
    const tk = make('line', {x1: scatterX(k, t), x2: scatterX(k, t), y1: scatterBottom, y2: scatterBottom - 6, stroke: frameColor, 'stroke-width': 2}, sg2);
    
    
    const lab = make('text', {x: scatterX(k, t), y: 1548, 'text-anchor': 'middle', class: 'tick'}, sg2);
    lab.textContent = fmtTick(t);
    
    
  });
  scatterYTicks.forEach(t => {
    const tk = make('line', {x1: left, x2: left + 6, y1: scatterY(t), y2: scatterY(t), stroke: frameColor, 'stroke-width': 2}, sg2);
    
    
    const lab = make('text', {x: left - 9, y: scatterY(t) + 8, 'text-anchor': 'end', class: 'tick'}, sg2);
    lab.textContent = fmtTick(t);
    
    
  });
});
</script>
</body>
</html>
